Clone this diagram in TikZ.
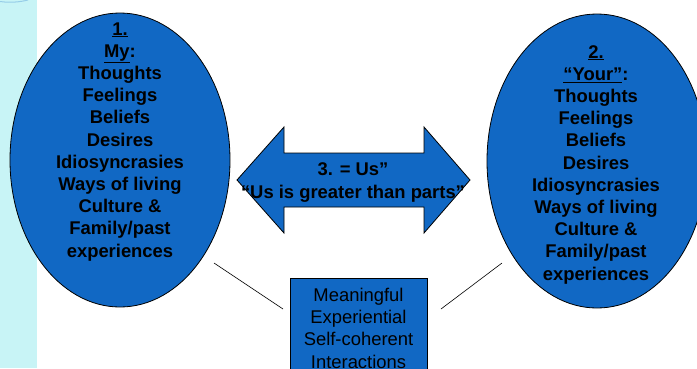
\documentclass[tikz,border=0pt]{standalone}
\usepackage{fontspec}
\setmainfont{Liberation Sans}
\usetikzlibrary{shapes.geometric}
\definecolor{blobblue}{RGB}{17,104,196}
\definecolor{stripcyan}{RGB}{200,244,246}
\definecolor{arcblue}{RGB}{150,205,232}
\tikzset{
  blob/.style={ellipse,draw=black,fill=blobblue,line width=0.8pt,inner sep=0pt},
  bigtxt/.style={align=center,inner sep=0pt,font=\fontsize{18.4}{22.2}\selectfont\bfseries},
  boxtxt/.style={align=center,inner sep=0pt,font=\fontsize{18.4}{22.2}\selectfont},
  thinline/.style={draw=black,line width=0.6pt}
}
\begin{document}
\begin{tikzpicture}[x=1pt,y=-1pt]
\clip (0,0) rectangle (697,368);
\fill[white] (0,0) rectangle (697,368);
\fill[stripcyan] (0,0) rectangle (37,368);
\draw[arcblue,line width=1pt] (0,1.5) .. controls (10,3) and (20,2) .. (28,0);
% ellipses
\node[blob,minimum width=220,minimum height=294] (me) at (120,160) {};
\node[blob,minimum width=220,minimum height=294] (you) at (597,161) {};
\node[bigtxt,anchor=base] (metxt) at (120,257) {\underline{1.}\\\underline{My}:\\Thoughts\\Feelings\\Beliefs\\Desires\\Idiosyncrasies\\Ways of living\\Culture \&\\Family/past\\experiences};
\node[bigtxt,anchor=base] (youtxt) at (596,280) {\underline{2.}\\\underline{“Your”}:\\Thoughts\\Feelings\\Beliefs\\Desires\\Idiosyncrasies\\Ways of living\\Culture \&\\Family/past\\experiences};
% double arrow
\draw[draw=black,fill=blobblue,line width=0.8pt] (237,180) -- (284,127) -- (284,153) -- (424,153) -- (424,127) -- (470,180) -- (424,233) -- (424,207) -- (284,207) -- (284,233) -- cycle;
\node[bigtxt,anchor=base] (ustxt) at (353,198) {3. = Us”\\“Us is greater than parts”};
% box
\node[draw=black,fill=blobblue,line width=0.8pt,minimum width=137,minimum height=100,anchor=north,inner sep=0pt] (box) at (358.5,278) {};
\node[boxtxt,anchor=base] (boxtxt) at (358.5,368) {Meaningful\\Experiential\\Self-coherent\\Interactions};
% lines
\coordinate (la) at (214,263);
\coordinate (lb) at (283,309);
\coordinate (ra) at (441,309);
\coordinate (rb) at (502,263);
\draw[thinline] (la) -- (lb);
\draw[thinline] (ra) -- (rb);
\end{tikzpicture}
\end{document}
